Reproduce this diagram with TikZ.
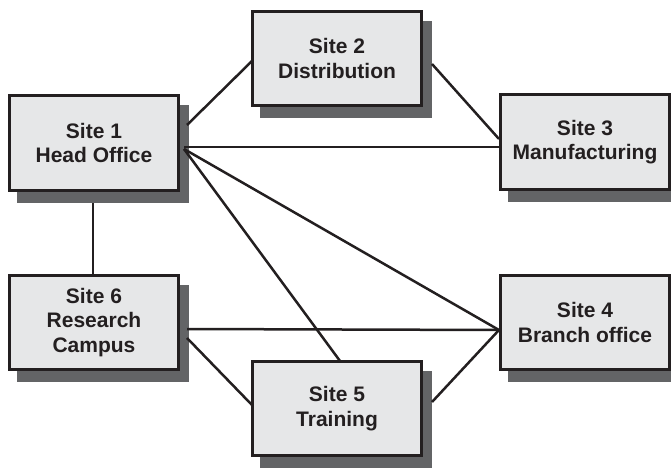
\documentclass[tikz,border=0pt]{standalone}
\usepackage{fontspec}
\setmainfont{Liberation Sans}
\usetikzlibrary{calc}
\definecolor{boxfill}{HTML}{E6E7E8}
\definecolor{shadowc}{HTML}{636466}
\definecolor{ink}{HTML}{231F20}
\pgfdeclarelayer{shadowlayer}
\pgfdeclarelayer{linelayer}
\pgfsetlayers{shadowlayer,linelayer,main}
\newcommand\siteshadow[1]{%
  \begin{pgfonlayer}{shadowlayer}
    \fill[shadowc] ($(#1.south west)+(9,11)$) rectangle ($(#1.north east)+(9,11)$);
  \end{pgfonlayer}}
\tikzset{
  site/.style={draw=ink, line width=3pt, fill=boxfill, rectangle,
    minimum width=169pt, minimum height=94pt, inner sep=0pt,
    align=center, text=ink,
    font=\fontsize{21}{24.5}\selectfont\bfseries},
  link/.style={draw=ink, line width=2.5pt}
}
\begin{document}
\begin{tikzpicture}[x=1pt,y=-1pt]
\useasboundingbox (0,0) rectangle (671,468);
\node[site] (s1) at (94,143) {Site 1\\Head Office};
\node[site] (s2) at (337,58.5) {Site 2\\Distribution};
\node[site] (s3) at (585,142) {Site 3\\Manufacturing};
\node[site] (s6) at (94,322.5) {Site 6\\Research\\Campus};
\node[site] (s4) at (585,322.5) {Site 4\\Branch office};
\node[site] (s5) at (337,408.5) {Site 5\\Training};
\siteshadow{s1}\siteshadow{s2}\siteshadow{s3}
\siteshadow{s4}\siteshadow{s5}\siteshadow{s6}
% connector end points
\coordinate (h1) at (184,149);
\coordinate (a12) at (187,125);
\coordinate (b12) at (252,61);
\coordinate (a13) at (184,147);
\coordinate (b13) at (499,147);
\coordinate (b14) at (499,330);
\coordinate (b15) at (340,361);
\coordinate (a23) at (432,64);
\coordinate (b23) at (499,139);
\coordinate (a16) at (93,203);
\coordinate (b16) at (93,274);
\coordinate (a64) at (187,329);
\coordinate (a65) at (187,338);
\coordinate (b65) at (252,405);
\coordinate (a54) at (432,402);
\begin{pgfonlayer}{linelayer}
\draw[link] (a12) -- (b12);
\draw[link] (a13) -- (b13);
\draw[link] (h1) -- (b14);
\draw[link] (h1) -- (b15);
\draw[link] (a23) -- (b23);
\draw[link] (a16) -- (b16);
\draw[link] (a64) -- (b14);
\draw[link] (a65) -- (b65);
\draw[link] (a54) -- (b14);
\end{pgfonlayer}
\end{tikzpicture}
\end{document}
